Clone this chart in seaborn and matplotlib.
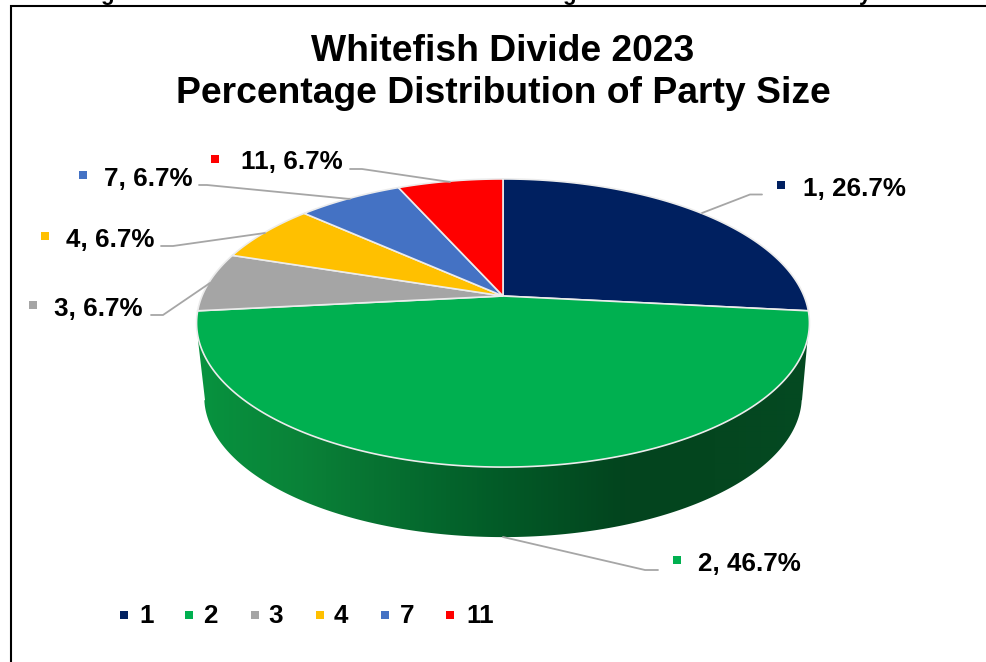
import numpy as np
import matplotlib
matplotlib.use("Agg")
import matplotlib.pyplot as plt
from matplotlib.colors import LinearSegmentedColormap
from matplotlib.patches import Polygon
import seaborn as sns

# Party sizes and the number of parties of each size
party_sizes = ["1", "2", "3", "4", "7", "11"]
party_counts = [4, 7, 1, 1, 1, 1]
slice_colors = ["#002060", "#00B050", "#A5A5A5", "#FFC000", "#4472C4", "#FF0000"]
title_lines = "Whitefish Divide 2023\nPercentage Distribution of Party Size"

# Callout layout in pixels: key-square centre, text left edge, text centre height
key_x = [781, 677, 33, 45, 83, 215]
key_y = [185, 560, 305, 236, 175, 159]
text_x = [803, 698, 54, 66, 104, 241]
text_y = [189, 564, 309, 240, 179, 162]
leaders = [
    [(702, 213), (750, 194.5), (762, 194.5)],
    [(503, 537), (645, 570), (658, 570)],
    [(210, 283), (163, 315), (151, 315)],
    [(265, 233), (173, 246), (161, 246)],
    [(350, 199), (207, 185), (199, 185)],
    [(450, 182), (362, 169), (350, 169)],
]
legend_key_x = [124, 189, 255, 320, 385, 450]
legend_text_x = [139, 203, 268, 334, 400, 466]

sns.set_theme(style="white")
plt.rcParams["font.family"] = ["Liberation Sans", "DejaVu Sans"]
palette = sns.color_palette(slice_colors)

fig, ax = plt.subplots(figsize=(9.86, 6.62), dpi=100)
ax.set_position([0, 0, 1, 1])

wedges, _ = ax.pie(party_counts, colors=palette, startangle=90, counterclock=False)


def project(theta_deg, radius=1.0, scale=1.0, drop=0.0):
    """Perspective view of a point on the tilted pie disc, in pixels."""
    t = np.radians(theta_deg)
    x, y = radius * np.cos(t), radius * np.sin(t)
    w = 1 + 0.1875 * y
    return 503 + scale * 301 * x / w, 296 - scale * 139 * y / w + drop


# Shaded side wall of the front slice: a horizontal gradient clipped to the rim band
wall_shade = LinearSegmentedColormap.from_list(
    "wall",
    [(0.0, "#07933F"), (0.17, "#0A8238"), (0.33, "#066E30"), (0.5, "#025A27"),
     (0.7, "#03441E"), (0.85, "#04461F"), (1.0, "#044A22")],
)
front = wedges[1]
angles = np.linspace(front.theta1, front.theta2, 400)
top_x, top_y = project(angles)
bot_x, bot_y = project(angles, scale=0.975, drop=74.3)
lower = bot_y >= 400
bottom_rim = np.column_stack([bot_x, bot_y])[lower][::-1]
# The outer silhouette runs straight down from the disc's widest points
right_shoulder = [(807.5, 340), (802, 400)]
left_shoulder = [(198, 340), (205, 400)]
first_is_left = top_x[0] < top_x[-1]
near_end, far_end = (left_shoulder, right_shoulder) if first_is_left else (right_shoulder, left_shoulder)
band = np.vstack([np.column_stack([top_x, top_y]), far_end, bottom_rim, near_end[::-1]])
gradient = ax.imshow(np.linspace(0, 1, 612)[None, :], cmap=wall_shade, aspect="auto",
                     extent=(197, 809, 560, 300), zorder=1, interpolation="bilinear")
band_patch = Polygon(band, closed=True, transform=ax.transData, facecolor="none", edgecolor="none")
ax.add_patch(band_patch)
gradient.set_clip_path(band_patch)

ax.set_aspect("auto")
ax.set_xlim(0, 986)
ax.set_ylim(662, 0)
ax.axis("off")

# Re-lay every slice in the perspective view
for wedge, color in zip(wedges, palette):
    arc = np.linspace(wedge.theta1, wedge.theta2, 200)
    xs, ys = project(arc)
    cx, cy = project(0.0, radius=0.0)
    outline = np.vstack([[cx, cy], np.column_stack([xs, ys])])
    ax.add_patch(Polygon(outline, closed=True, facecolor=color,
                         edgecolor="#ECECEC", linewidth=1.2, zorder=2))
    wedge.remove()

# Leader lines
for points in leaders:
    px, py = zip(*points)
    ax.plot(px, py, color="#A6A6A6", linewidth=1.3, zorder=3, solid_joinstyle="miter")

# Callouts: key square plus "size, percent"
total = sum(party_counts)
callouts = [f"{s}, {100 * c / total:.1f}%" for s, c in zip(party_sizes, party_counts)]
sns.scatterplot(x=key_x, y=key_y, hue=party_sizes, palette=palette, marker="s", s=33,
                linewidth=0, legend=False, ax=ax, zorder=4)
for label, x, y in zip(callouts, text_x, text_y):
    ax.text(x, y, label, fontsize=18.7, fontweight="bold", color="black",
            ha="left", va="center")

# Legend row along the bottom
sns.scatterplot(x=legend_key_x, y=[615] * 6, hue=party_sizes, palette=palette, marker="s",
                s=33, linewidth=0, legend=False, ax=ax, zorder=4)
for label, x in zip(party_sizes, legend_text_x):
    ax.text(x, 616, label, fontsize=18.7, fontweight="bold", color="black",
            ha="left", va="center")

ax.text(503, 72.5, title_lines, fontsize=26.8, fontweight="bold", color="black",
        ha="center", va="center", linespacing=1.23)

# Chart frame and the descenders of the heading above it
ax.plot([10.5, 10.5, 986], [662, 6, 6], color="black", linewidth=1.5, solid_joinstyle="miter")
for x, letter in zip([107, 569, 865], "ggy"):
    ax.text(x, 0, letter, fontsize=16, fontweight="bold", color="black",
            ha="center", va="baseline", clip_on=False)

fig.savefig("out.png", dpi=100, facecolor="white")
